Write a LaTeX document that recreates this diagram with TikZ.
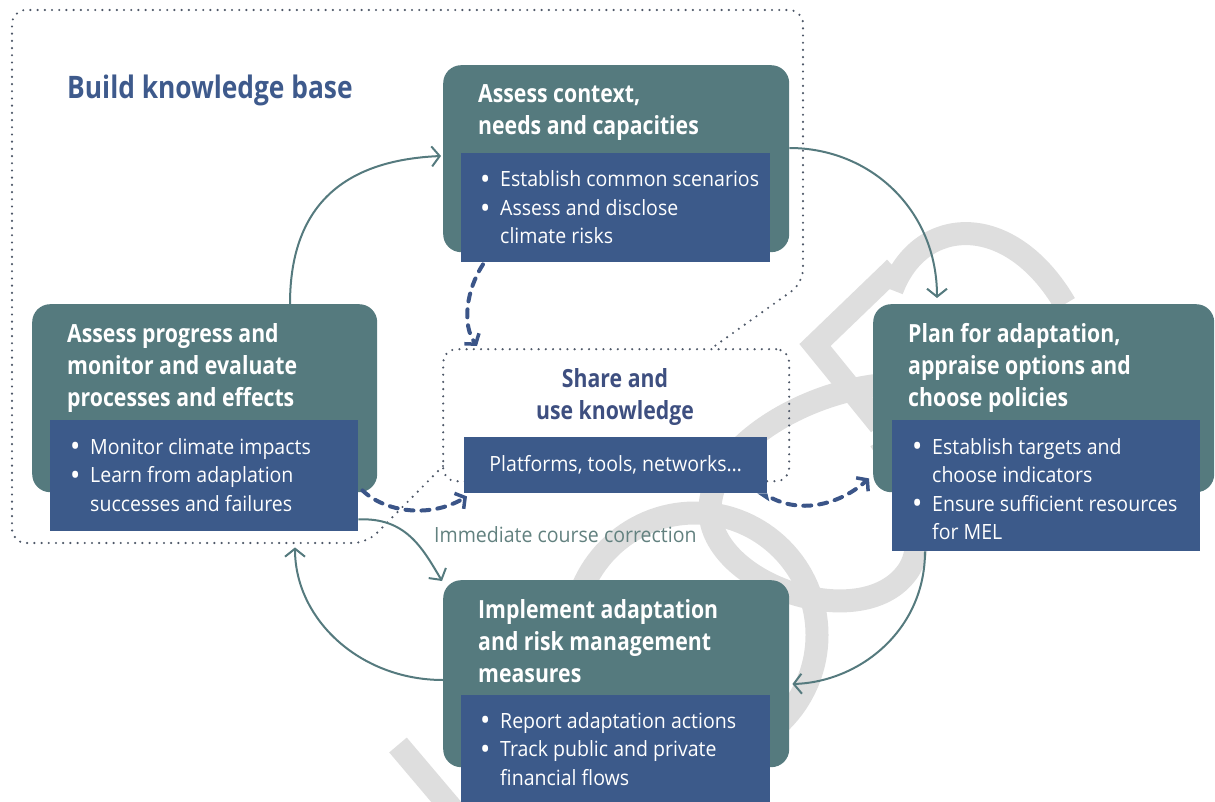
\documentclass[tikz,border=0pt]{standalone}
\usepackage{fontspec}
\usepackage{graphicx}
\setmainfont{Open Sans}
\newfontfamily\hfont{Open Sans}[FakeStretch=0.85]
\newfontfamily\bfont{Open Sans}[FakeStretch=0.93]
\usetikzlibrary{arrows.meta,calc}
\definecolor{boxteal}{HTML}{557A7E}
\definecolor{boxblue}{HTML}{3C5A8A}
\definecolor{arrowteal}{HTML}{557A7E}
\definecolor{dashblue}{HTML}{3B5588}
\definecolor{titleblue}{HTML}{3E5A8C}
\definecolor{sharecol}{HTML}{3E4F80}
\definecolor{imcol}{HTML}{62817F}
\definecolor{dotgray}{HTML}{4E5868}
\definecolor{wmgray}{HTML}{DEDEDE}
\newcommand\bl[1]{\makebox[20pt][l]{\raisebox{-0.13em}{\scalebox{1.4}{\textbullet}}}#1}
\newcommand\cl[1]{\hspace*{20pt}#1}
\tikzset{
  tealbox/.style={fill=boxteal, rounded corners=18pt, anchor=north west, inner sep=0pt, draw=none},
  bluebox/.style={fill=boxblue, anchor=north west, inner sep=0pt, draw=none},
  head/.style={anchor=base west, inner sep=0pt, align=left, text=white, font=\hfont\bfseries\fontsize{25}{32}\selectfont},
  bul/.style={anchor=base west, inner sep=0pt, align=left, text=white, font=\bfont\fontsize{21}{28.5}\selectfont},
  flow/.style={draw=arrowteal, line width=2pt, -{Straight Barb[length=8pt,width=20pt]}},
  dflow/.style={draw=dashblue, line width=4pt, line cap=round, dash pattern=on 8pt off 8pt, -{Straight Barb[length=7pt,width=18pt,line width=3.5pt]}},
  dots/.style={draw=dotgray, line width=2.4pt, line cap=round, dash pattern=on 0pt off 7.2pt},
  wm/.style={draw=wmgray, line width=23pt},
}
\begin{document}
\begin{tikzpicture}[x=1pt,y=-1pt]
\useasboundingbox (0,0) rectangle (1215,802);
\begin{scope}
\clip (0,0) rectangle (1215,802);
% watermark
\draw[wm] (695,635) circle (122);
\draw[wm] (880,385) .. controls (790,395) and (695,460) .. (712,525) .. controls (730,590) and (860,630) .. (905,575) .. controls (935,540) and (900,470) .. (880,440);
\draw[wm, line join=miter] (895,268) -- (815,345) -- (880,425);
\draw[wm] (892,290) .. controls (920,215) and (1010,210) .. (1065,304);
\draw[wm] (398,745) -- (470,830);

% outer dotted region
\draw[dots, rounded corners=14pt] (443,466) -- (367,543) -- (12,543) -- (12,10) -- (803,10) -- (803,283) -- (712,348);
\node[dots, rounded corners=13pt, anchor=north west, minimum width=346pt, minimum height=132pt, inner sep=0pt] (S) at (442,348) {};

\node[anchor=base west, inner sep=0pt, text=titleblue, font=\hfont\bfseries\fontsize{31}{36}\selectfont] (T) at (67,99) {Build knowledge base};

% Box A
\node[tealbox, minimum width=346pt, minimum height=187pt] (A) at (443,65) {};
\node[bluebox, minimum width=309pt, minimum height=109pt] (Ab) at (461,153) {};
\node[head] (At) at (478,135) {Assess context,\\needs and capacities};
\node[bul] (Al) at (480,244) {\bl{Establish common scenarios}\\\bl{Assess and disclose}\\\cl{climate risks}};

% Box B
\node[tealbox, minimum width=345pt, minimum height=188pt] (B) at (32,304) {};
\node[bluebox, minimum width=308pt, minimum height=111pt] (Bb) at (50,420) {};
\node[head] (Bt) at (67,406) {Assess progress and\\monitor and evaluate\\processes and effects};
\node[bul] (Bl) at (70,511) {\bl{Monitor climate impacts}\\\bl{Learn from adaplation}\\\cl{successes and failures}};

% Box C
\node[tealbox, minimum width=341pt, minimum height=188pt] (C) at (873,304) {};
\node[bluebox, minimum width=308pt, minimum height=131pt] (Cb) at (892,420) {};
\node[head] (Ct) at (908,406) {Plan for adaptation,\\appraise options and\\choose policies};
\node[bul] (Cl) at (912,539.5) {\bl{Establish targets and}\\\cl{choose indicators}\\\bl{Ensure sufficient resources}\\\cl{for MEL}};

% Box D
\node[tealbox, minimum width=346pt, minimum height=187pt] (D) at (443,580) {};
\node[bluebox, minimum width=309pt, minimum height=130pt] (Db) at (461,695) {};
\node[head] (Dt) at (478,682) {Implement adaptation\\and risk management\\measures};
\node[bul] (Dl) at (480,785) {\bl{Report adaptation actions}\\\bl{Track public and private}\\\cl{financial flows}};

% Share box
\node[anchor=base, inner sep=0pt, align=center, text=sharecol, font=\hfont\bfseries\fontsize{25}{32}\selectfont] (St) at (615,419) {Share and\\use knowledge};
\node[bluebox, minimum width=303pt, minimum height=56pt, text=white, font=\bfont\fontsize{21}{26}\selectfont] (P) at (464,437) {Platforms, tools, networks…};
\fill[boxblue] ($(P.south east)+(-10,0)$) -- (P.south east) -- ($(P.south east)+(2,8)$) -- cycle;

\node[anchor=base west, inner sep=0pt, text=imcol, font=\bfont\fontsize{21}{26}\selectfont] (I) at (434,542) {Immediate course correction};

% coordinates for connectors
\coordinate (a1s) at ($(B.north west)+(258,0)$);
\coordinate (a1e) at ($(A.north west)+(-2,91)$);
\coordinate (a2s) at ($(A.north east)+(0,83)$);
\coordinate (a2e) at ($(C.north west)+(64,-6)$);
\coordinate (a3s) at ($(Cb.south west)+(33,0)$);
\coordinate (a3e) at ($(D.north east)+(3,104)$);
\coordinate (a4s) at ($(D.north west)+(0,100)$);
\coordinate (a4e) at ($(Bb.south west)+(245,16)$);
\coordinate (a5s) at ($(Bb.south east)+(0,-12)$);
\coordinate (a5e) at ($(D.north west)+(-1,1)$);
\coordinate (d1s) at ($(Ab.south west)+(22,2)$);
\coordinate (d1e) at ($(S.north west)+(35,-2)$);
\coordinate (d2s) at ($(Bb.south east)+(4,-41)$);
\coordinate (d2e) at ($(P.south west)+(3,3)$);
\coordinate (d3s) at ($(P.south east)+(5,5)$);
\coordinate (d3e) at ($(C.south west)+(-4,-14)$);

\draw[flow] (a1s) .. controls +(0,-104) and +(-91,4) .. (a1e);
\draw[flow] (a2s) .. controls +(81,0) and +(0,-88) .. (a2e);
\draw[flow] (a3s) .. controls +(0,79) and +(67,-2) .. (a3e);
\draw[flow] (a4s) .. controls +(-83,0) and +(0,72) .. (a4e);
\draw[flow] (a5s) .. controls +(47,-2) and +(-20,-34) .. (a5e);

\draw[dflow] (d1s) .. controls +(-17,26) and +(-15,-21) .. (d1e);
\draw[dflow] (d2s) .. controls +(23,22) and +(-37,22) .. (d2e);
\draw[dflow] (d3s) .. controls +(30,15) and +(-29,26) .. (d3e);
\end{scope}
\end{tikzpicture}
\end{document}
